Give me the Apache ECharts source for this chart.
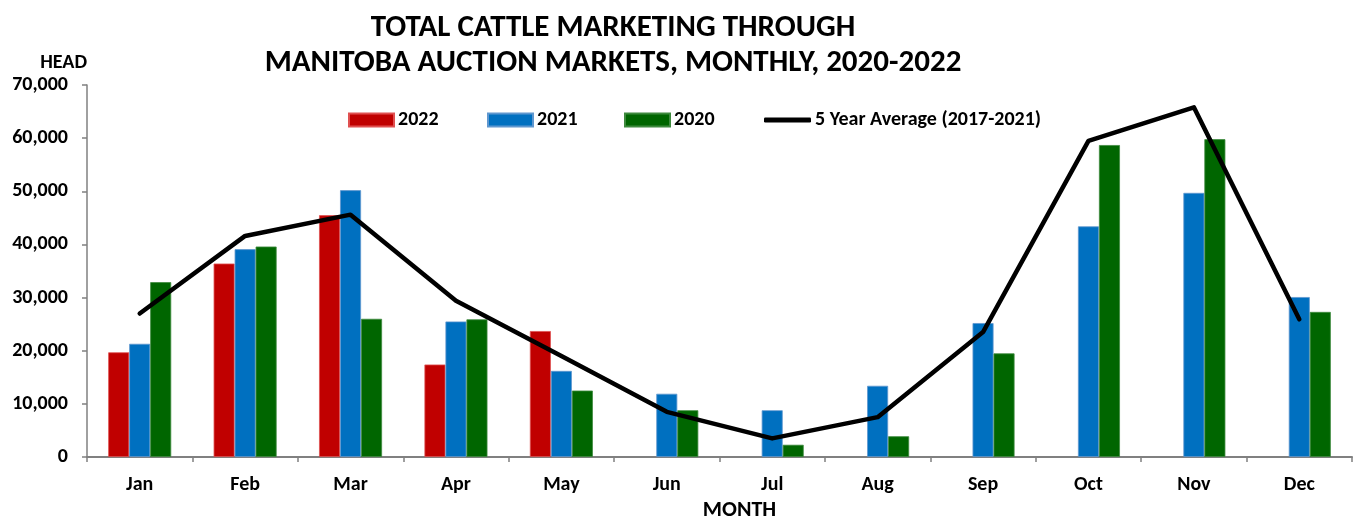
<!DOCTYPE html>
<html>
<head>
<meta charset="utf-8">
<script src="https://cdn.jsdelivr.net/npm/echarts@6/dist/echarts.min.js"></script>
<style>
html,body{margin:0;padding:0;background:#fff;}
#c{width:1353px;height:516px;}
</style>
</head>
<body>
<div id="c"></div>
<script>
const months = ['Jan','Feb','Mar','Apr','May','Jun','Jul','Aug','Sep','Oct','Nov','Dec'];
const s2022 = [19700, 36400, 45500, 17400, 23700, null, null, null, null, null, null, null];
const s2021 = [21300, 39100, 50200, 25500, 16200, 11900, 8800, 13400, 25200, 43400, 49700, 30100];
const s2020 = [32900, 39600, 26000, 25900, 12500, 8800, 2300, 3900, 19500, 58700, 59800, 27300];
const avg5 = [27000, 41600, 45600, 29400, 19000, 8500, 3500, 7500, 23500, 59500, 65800, 25900];

const FONT = 'Carlito, "Liberation Sans Narrow", "DejaVu Sans Condensed", "Open Sans", sans-serif';
const chart = echarts.init(document.getElementById('c'));
const legendText = {fontFamily: FONT, fontWeight: 'bold', fontSize: 20, color: '#000', padding: [0, 0, 0, -1]};
const legBase = {top: 110, itemWidth: 45, itemHeight: 13, itemGap: 0, textStyle: legendText, padding: 0, selectedMode: false};
chart.setOption({
  animation: false,
  textStyle: {fontFamily: FONT},
  title: {
    text: 'TOTAL CATTLE MARKETING THROUGH\nMANITOBA AUCTION MARKETS, MONTHLY, 2020-2022',
    left: 608, top: 6, textAlign: 'center',
    textStyle: {fontFamily: FONT, fontWeight: 'bold', fontSize: 31, lineHeight: 35, color: '#000'}
  },
  legend: [
    Object.assign({}, legBase, {data: [{name: '2022', icon: 'rect'}], left: 348}),
    Object.assign({}, legBase, {data: [{name: '2021', icon: 'rect'}], left: 487}),
    Object.assign({}, legBase, {data: [{name: '2020', icon: 'rect'}], left: 624}),
    Object.assign({}, legBase, {data: [{name: '5 Year Average (2017-2021)', icon: 'roundRect'}], left: 764, itemWidth: 47, itemHeight: 5})
  ],
  grid: {left: 87, right: 1, top: 85, bottom: 59, containLabel: false, outerBoundsMode: 'none'},
  xAxis: {
    type: 'category',
    data: months,
    name: 'MONTH',
    nameLocation: 'middle',
    nameGap: 38,
    nameTextStyle: {fontFamily: FONT, fontWeight: 'bold', fontSize: 22, color: '#000', padding: [0, 0, 0, 40]},
    axisLine: {lineStyle: {color: '#808080', width: 2}},
    axisTick: {show: true, length: 5, lineStyle: {color: '#808080', width: 1.5}},
    axisLabel: {fontFamily: FONT, fontWeight: 'bold', fontSize: 20, color: '#000', margin: 18}
  },
  yAxis: {
    type: 'value',
    min: 0, max: 70000, interval: 10000,
    name: 'HEAD',
    nameLocation: 'end',
    nameGap: 22,
    nameTextStyle: {fontFamily: FONT, fontWeight: 'bold', fontSize: 20, color: '#000', align: 'right', verticalAlign: 'middle'},
    splitLine: {show: false},
    axisLine: {show: true, lineStyle: {color: '#808080', width: 1.5}},
    axisTick: {show: true, length: 5, lineStyle: {color: '#808080', width: 1.5}},
    axisLabel: {fontFamily: FONT, fontWeight: 'bold', fontSize: 20, color: '#000', margin: 19,
      formatter: v => v.toLocaleString('en-US')}
  },
  series: [
    {name: '2022', type: 'bar', data: s2022, barWidth: 21, barGap: '0%',
      itemStyle: {color: '#C00000', borderColor: '#E05050', borderWidth: 0.8}},
    {name: '2021', type: 'bar', data: s2021, barWidth: 21, barGap: '0%',
      itemStyle: {color: '#0070C0', borderColor: '#5F97CF', borderWidth: 0.8}},
    {name: '2020', type: 'bar', data: s2020, barWidth: 21, barGap: '0%',
      itemStyle: {color: '#006600', borderColor: '#3E8A3E', borderWidth: 0.8}},
    {name: '5 Year Average (2017-2021)', type: 'line', data: avg5, showSymbol: false, symbol: 'none',
      lineStyle: {color: '#000', width: 4.5, cap: 'round', join: 'round'}, itemStyle: {color: '#000'}, z: 5}
  ]
});
</script>
</body>
</html>
